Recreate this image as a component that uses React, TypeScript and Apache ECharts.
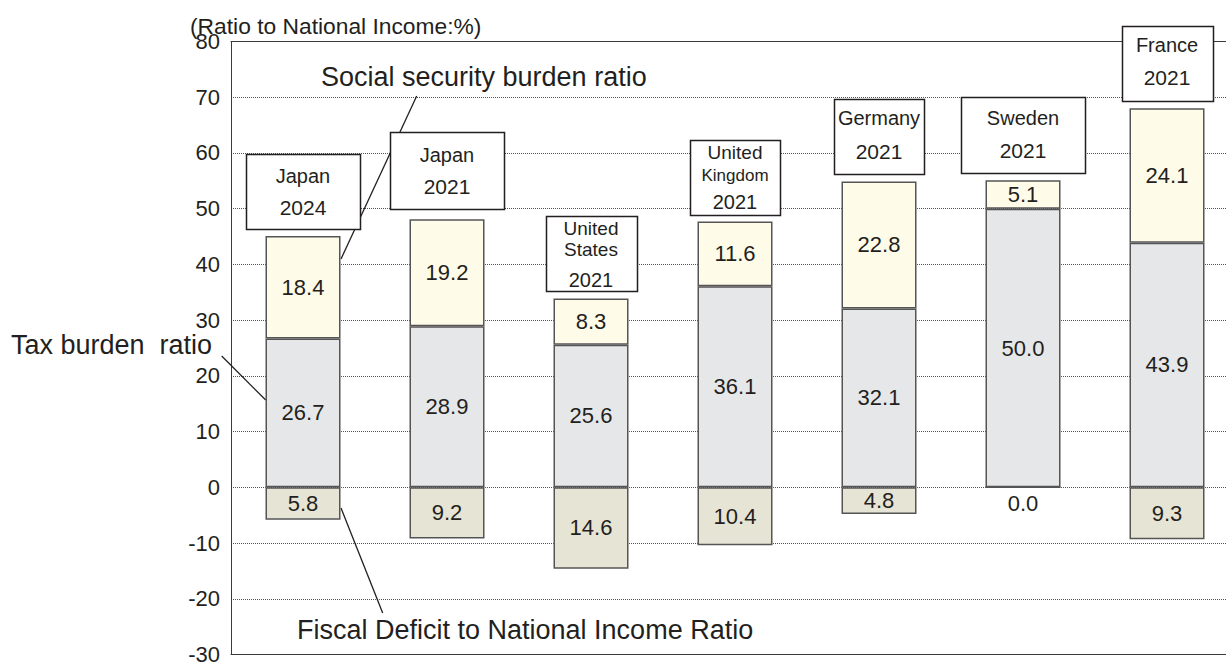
import React, { useEffect, useRef } from "react";
import * as echarts from "echarts";

// ---------- data ----------
const categories = [
  "Japan 2024",
  "Japan 2021",
  "United States 2021",
  "United Kingdom 2021",
  "Germany 2021",
  "Sweden 2021",
  "France 2021",
];
const taxBurden = [26.7, 28.9, 25.6, 36.1, 32.1, 50.0, 43.9];
const socialSecurity = [18.4, 19.2, 8.3, 11.6, 22.8, 5.1, 24.1];
const fiscalDeficit = [5.8, 9.2, 14.6, 10.4, 4.8, 0.0, 9.3];
const boxLabels = [
  ["Japan", "2024"],
  ["Japan", "2021"],
  ["United", "States", "2021"],
  ["United", "Kingdom", "2021"],
  ["Germany", "2021"],
  ["Sweden", "2021"],
  ["France", "2021"],
];
const yMin = -30;
const yMax = 80;
const yInterval = 10;

// ---------- layout / style ----------
const FONT = "'Liberation Sans', Arial, Helvetica, sans-serif";
const INK = "#231f20";
const BOX_W = [114, 114, 91, 90, 90, 124, 91];
const BOX_GAP = [7, 10, 7, 6, 7, 7, 7];
const BOX_H = [75, 77, 75, 75, 75, 76, 75];
const BOX_LINE_DY = [
  [22, 54],
  [23, 54],
  [12, 33, 64],
  [12, 35, 62],
  [19, 52],
  [21, 53],
  [19, 51],
];
const BOX_LINE_FS = [
  [20, 21],
  [20, 21],
  [19, 19, 20],
  [19, 17, 20],
  [20, 21],
  [20, 21],
  [20, 21],
];

export default function App() {
  const ref = useRef<HTMLDivElement>(null);

  useEffect(() => {
    if (!ref.current) return;
    const chart = echarts.init(ref.current, null, { renderer: "svg" });

    const valueLabel = {
      show: true,
      position: "inside",
      fontSize: 22,
      fontFamily: FONT,
      color: INK,
    };

    const option: any = {
      animation: false,
      backgroundColor: "#ffffff",
      grid: {
        left: 231,
        top: 41.5,
        width: 1008,
        height: 613,
        outerBoundsMode: "none",
        containLabel: false,
      },
      xAxis: [
        {
          type: "category",
          data: categories,
          position: "bottom",
          axisLine: { show: true, onZero: false, lineStyle: { color: "#3a3a3a", width: 1 } },
          axisTick: { show: false },
          axisLabel: { show: false },
          splitLine: { show: false },
        },
        {
          type: "category",
          data: categories,
          position: "top",
          axisLine: { show: true, onZero: false, lineStyle: { color: "#3a3a3a", width: 1 } },
          axisTick: { show: false },
          axisLabel: { show: false },
          splitLine: { show: false },
        },
      ],
      yAxis: {
        type: "value",
        min: yMin,
        max: yMax,
        interval: yInterval,
        axisLine: { show: true, lineStyle: { color: "#3a3a3a", width: 1 } },
        axisTick: { show: false },
        axisLabel: {
          fontSize: 22,
          fontFamily: FONT,
          color: INK,
          margin: 11,
        },
        splitLine: {
          show: true,
          lineStyle: { color: "#555555", type: "dotted", width: 1 },
        },
      },
      series: [
        {
          name: "Tax burden ratio",
          type: "bar",
          stack: "total",
          barWidth: 75,
          barGap: "-100%",
          data: taxBurden,
          itemStyle: { color: "#e6e7e8", borderColor: "#555555", borderWidth: 1.5 },
          label: { ...valueLabel, formatter: (p: any) => taxBurden[p.dataIndex].toFixed(1) },
          z: 2,
        },
        {
          name: "Social security burden ratio",
          type: "bar",
          stack: "total",
          barWidth: 75,
          barGap: "-100%",
          data: socialSecurity,
          itemStyle: { color: "#fffbe9", borderColor: "#555555", borderWidth: 1.5 },
          label: { ...valueLabel, formatter: (p: any) => socialSecurity[p.dataIndex].toFixed(1) },
          z: 2,
        },
        {
          name: "Fiscal Deficit to National Income Ratio",
          type: "bar",
          barWidth: 75,
          barGap: "-100%",
          data: fiscalDeficit.map((v) =>
            v === 0
              ? { value: 0, label: { position: "bottom", distance: 4 } }
              : { value: -v }
          ),
          itemStyle: { color: "#e6e4d4", borderColor: "#555555", borderWidth: 1.5 },
          label: { ...valueLabel, formatter: (p: any) => fiscalDeficit[p.dataIndex].toFixed(1) },
          z: 3,
        },
        {
          name: "boxes",
          type: "custom",
          clip: false,
          z: 10,
          data: categories.map((_, i) => [i, taxBurden[i] + socialSecurity[i]]),
          encode: { x: 0, y: 1 },
          renderItem: (params: any, api: any) => {
            const i = params.dataIndex;
            const p = api.coord([api.value(0), api.value(1)]);
            const w = BOX_W[i];
            const h = BOX_H[i];
            const bottom = p[1] - BOX_GAP[i];
            const top = bottom - h;
            const children: any[] = [
              {
                type: "rect",
                shape: { x: Math.round(p[0] - w / 2) + 0.5, y: Math.round(top) + 0.5, width: w, height: h },
                style: { fill: "#ffffff", stroke: INK, lineWidth: 1.5 },
              },
            ];
            boxLabels[i].forEach((t, k) => {
              children.push({
                type: "text",
                x: p[0],
                y: top + BOX_LINE_DY[i][k],
                style: {
                  text: t,
                  fontSize: BOX_LINE_FS[i][k],
                  fontFamily: FONT,
                  fill: INK,
                  align: "center",
                  verticalAlign: "middle",
                },
              });
            });
            return { type: "group", children };
          },
        },
      ],
      graphic: [
        {
          type: "text",
          x: 190,
          y: 26,
          z: 20,
          style: {
            text: "(Ratio to National Income:%)",
            fontSize: 22.8,
            fontFamily: FONT,
            fill: INK,
            align: "left",
            verticalAlign: "middle",
          },
        },
        {
          type: "text",
          x: 321,
          y: 77,
          z: 1,
          style: {
            text: "Social security burden ratio",
            fontSize: 27,
            fontFamily: FONT,
            fill: INK,
            align: "left",
            verticalAlign: "middle",
          },
        },
        {
          type: "text",
          x: 11,
          y: 345,
          z: 1,
          style: {
            text: "Tax burden  ratio",
            fontSize: 27,
            fontFamily: FONT,
            fill: INK,
            align: "left",
            verticalAlign: "middle",
          },
        },
        {
          type: "text",
          x: 297,
          y: 630,
          z: 1,
          style: {
            text: "Fiscal Deficit to National Income Ratio",
            fontSize: 27,
            fontFamily: FONT,
            fill: INK,
            align: "left",
            verticalAlign: "middle",
          },
        },
        {
          type: "line",
          z: 1,
          shape: { x1: 416.7, y1: 96, x2: 341, y2: 259 },
          style: { stroke: INK, lineWidth: 1.3 },
        },
        {
          type: "line",
          z: 1,
          shape: { x1: 221.7, y1: 356, x2: 265.7, y2: 400 },
          style: { stroke: INK, lineWidth: 1.3 },
        },
        {
          type: "line",
          z: 1,
          shape: { x1: 341, y1: 508, x2: 382.7, y2: 613 },
          style: { stroke: INK, lineWidth: 1.3 },
        },
      ],
    };

    chart.setOption(option);
    return () => chart.dispose();
  }, []);

  return (
    <div
      ref={ref}
      style={{
        position: "absolute",
        left: 0,
        top: 0,
        width: 1226,
        height: 662,
        overflow: "hidden",
        background: "#ffffff",
      }}
    />
  );
}
